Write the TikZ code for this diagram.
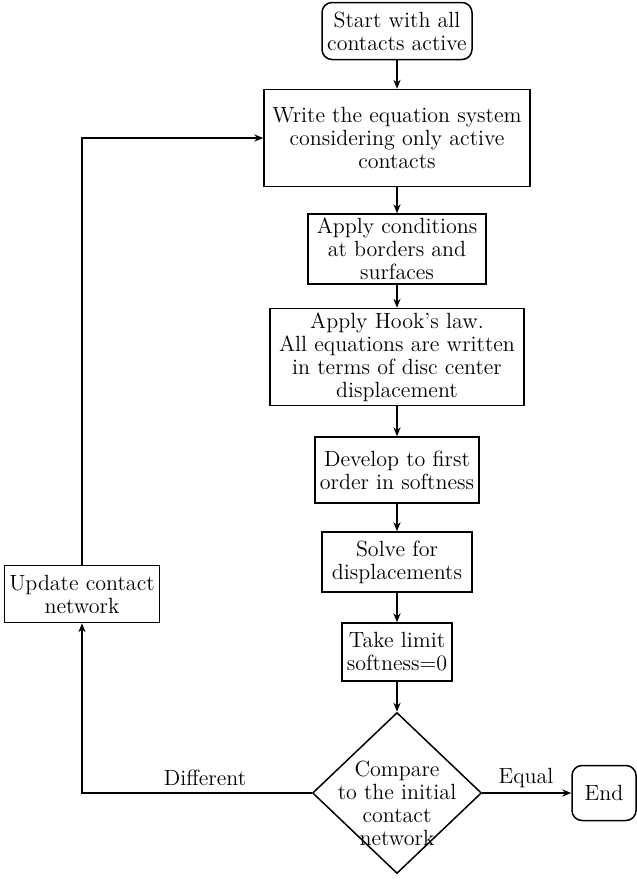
\documentclass[tikz,border=0pt]{standalone}
\usetikzlibrary{shapes.geometric,arrows.meta}
\begin{document}
\begin{tikzpicture}[x=0.5pt,y=-0.5pt,
  txt/.style={font=\fontsize{11}{11.5}\selectfont, align=center},
  base/.style={txt, draw, line width=0.75pt, inner xsep=2.5pt, inner ysep=2pt},
  proc/.style={base, rectangle},
  term/.style={base, rectangle, rounded corners=5pt},
  dec/.style={draw, line width=0.75pt, diamond, inner sep=0pt},
  lab/.style={txt, inner sep=1pt},
  arr/.style={line width=0.75pt, -{Stealth[length=4.5pt,width=3.6pt]}}
]
\useasboundingbox (0,0) rectangle (637,880);

\node[term, minimum width=75pt, minimum height=28.5pt] (start) at (397,31) {Start with all\\contacts active};
\node[proc, minimum width=133pt, minimum height=48.5pt] (write) at (397,138) {Write the equation system\\considering only active\\contacts};
\node[proc, minimum width=89pt, minimum height=34pt] (apply) at (397,249) {Apply conditions\\at borders and\\surfaces};
\node[proc, minimum width=127pt, minimum height=48.5pt] (hook) at (397,357) {Apply Hook's law.\\All equations are written\\in terms of disc center\\displacement};
\node[proc, minimum width=80pt, minimum height=33pt] (develop) at (397,470) {Develop to first\\order in softness};
\node[proc, minimum width=75pt, minimum height=30pt] (solve) at (397,562) {Solve for\\displacements};
\node[proc, minimum width=55pt, minimum height=29pt] (take) at (397,652) {Take limit\\softness=0};
\node[dec, minimum width=84.5pt, minimum height=80.5pt] (cmp) at (397,793) {};
\node[lab] (cmptext) at (397,803) {Compare\\to the initial\\contact\\network};
\node[proc, minimum width=77pt, minimum height=28.5pt] (update) at (82,594) {Update contact\\network};
\node[term, minimum width=32pt, minimum height=27.5pt] (end) at (604,793) {End};

\draw[arr] (start) -- (write);
\draw[arr] (write) -- (apply);
\draw[arr] (apply) -- (hook);
\draw[arr] (hook) -- (develop);
\draw[arr] (develop) -- (solve);
\draw[arr] (solve) -- (take);
\draw[arr] (take) -- (cmp);
\draw[arr] (cmp.east) -- (end.west);
\draw[arr] (cmp.west) -| (update.south);
\draw[arr] (update.north) |- (write.west);

\node[lab] (ldiff) at (205,778) {Different};
\node[lab] (lequal) at (526,778) {Equal};
\end{tikzpicture}
\end{document}
